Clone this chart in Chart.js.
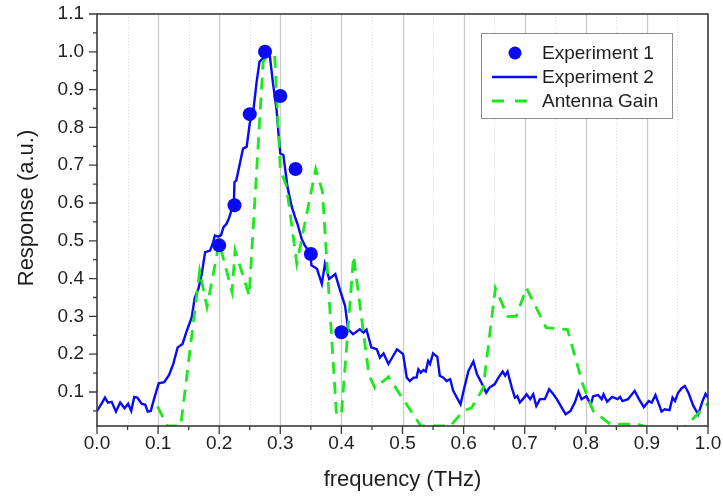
<!DOCTYPE html>
<html>
<head>
<meta charset="utf-8">
<title>Response vs frequency</title>
<script src="https://cdn.jsdelivr.net/npm/chart.js@4.4.1/dist/chart.umd.min.js"></script>
<style>
  html, body { margin: 0; padding: 0; background: #ffffff; }
  #wrap { width: 723px; height: 497px; position: relative; }
</style>
</head>
<body>
<div id="wrap"><canvas id="chart" width="723" height="497"></canvas></div>
<script>
// ---- data -------------------------------------------------------------
const seriesLabels = ['Experiment 1', 'Experiment 2', 'Antenna Gain'];

// Experiment 1: discrete measurements
const exp1Freq = [0.200, 0.225, 0.250, 0.275, 0.300, 0.325, 0.350, 0.400];
const exp1Resp = [0.488, 0.594, 0.835, 1.000, 0.883, 0.690, 0.465, 0.258];

// Experiment 2: continuous spectrum
const exp2Freq = [
  0.000, 0.007, 0.013, 0.018, 0.024, 0.031, 0.038, 0.045, 0.051, 0.056,
  0.061, 0.066, 0.073, 0.079, 0.083, 0.088, 0.094, 0.101, 0.110, 0.118,
  0.125, 0.132, 0.140, 0.147, 0.155, 0.160, 0.166, 0.171, 0.177, 0.185,
  0.190, 0.193, 0.199, 0.203, 0.207, 0.212, 0.216, 0.221, 0.224, 0.225,
  0.228, 0.239, 0.245, 0.250, 0.256, 0.261, 0.266, 0.272, 0.277, 0.283,
  0.288, 0.294, 0.297, 0.300, 0.305, 0.312, 0.319, 0.324, 0.328, 0.335,
  0.340, 0.349, 0.351, 0.360, 0.368, 0.373, 0.380, 0.390, 0.398, 0.406,
  0.411, 0.419, 0.430, 0.436, 0.441, 0.449, 0.458, 0.463, 0.469, 0.477,
  0.491, 0.501, 0.507, 0.512, 0.518, 0.523, 0.526, 0.530, 0.534, 0.538,
  0.542, 0.545, 0.550, 0.557, 0.561, 0.567, 0.572, 0.578, 0.583, 0.589,
  0.595, 0.600, 0.608, 0.616, 0.622, 0.629, 0.637, 0.642, 0.651, 0.657,
  0.664, 0.668, 0.672, 0.679, 0.684, 0.688, 0.692, 0.699, 0.703, 0.709,
  0.714, 0.719, 0.725, 0.733, 0.740, 0.747, 0.753, 0.758, 0.767, 0.775,
  0.782, 0.788, 0.793, 0.801, 0.808, 0.812, 0.820, 0.826, 0.829, 0.835,
  0.843, 0.852, 0.856, 0.860, 0.869, 0.880, 0.887, 0.895, 0.903, 0.908,
  0.914, 0.920, 0.924, 0.929, 0.937, 0.942, 0.946, 0.951, 0.957, 0.962,
  0.968, 0.976, 0.984, 0.991, 0.996, 1.000
];
const exp2Resp = [
  0.050, 0.068, 0.085, 0.072, 0.074, 0.048, 0.072, 0.057, 0.069, 0.050,
  0.087, 0.085, 0.069, 0.066, 0.048, 0.050, 0.085, 0.123, 0.126, 0.145,
  0.175, 0.218, 0.227, 0.262, 0.297, 0.350, 0.373, 0.408, 0.470, 0.474,
  0.496, 0.514, 0.511, 0.515, 0.536, 0.545, 0.560, 0.585, 0.600, 0.655,
  0.660, 0.744, 0.749, 0.811, 0.846, 0.917, 0.974, 0.983, 0.997, 0.988,
  0.917, 0.846, 0.784, 0.731, 0.727, 0.640, 0.589, 0.563, 0.545, 0.505,
  0.488, 0.466, 0.435, 0.426, 0.386, 0.439, 0.399, 0.412, 0.368, 0.328,
  0.266, 0.253, 0.266, 0.257, 0.265, 0.218, 0.213, 0.191, 0.202, 0.174,
  0.213, 0.200, 0.138, 0.129, 0.138, 0.138, 0.160, 0.151, 0.158, 0.154,
  0.182, 0.174, 0.202, 0.193, 0.143, 0.138, 0.129, 0.134, 0.103, 0.085,
  0.067, 0.103, 0.156, 0.181, 0.147, 0.125, 0.098, 0.111, 0.121, 0.138,
  0.154, 0.143, 0.154, 0.111, 0.085, 0.089, 0.072, 0.085, 0.094, 0.081,
  0.094, 0.063, 0.081, 0.081, 0.107, 0.094, 0.080, 0.066, 0.041, 0.050,
  0.072, 0.101, 0.081, 0.089, 0.066, 0.089, 0.092, 0.081, 0.094, 0.074,
  0.087, 0.081, 0.087, 0.076, 0.081, 0.103, 0.081, 0.060, 0.076, 0.072,
  0.092, 0.066, 0.048, 0.054, 0.052, 0.085, 0.076, 0.098, 0.110, 0.116,
  0.098, 0.063, 0.041, 0.076, 0.095, 0.085
];

// Antenna gain curve
const gainFreq = [
  0.099, 0.115, 0.137, 0.168, 0.180, 0.200, 0.221, 0.226, 0.249, 0.272,
  0.278, 0.291, 0.300, 0.310, 0.327, 0.358, 0.369, 0.392, 0.400, 0.420,
  0.445, 0.455, 0.477, 0.530, 0.578, 0.600, 0.613, 0.632, 0.652, 0.672,
  0.686, 0.703, 0.735, 0.770, 0.795, 0.812, 0.840, 0.885, 0.925, 0.955,
  1.000
];
const gainResp = [
  0.062, 0.010, 0.010, 0.420, 0.325, 0.495, 0.365, 0.475, 0.355, 0.975,
  0.985, 0.985, 0.690, 0.645, 0.440, 0.690, 0.630, 0.040, 0.040, 0.460,
  0.145, 0.110, 0.140, 0.010, 0.010, 0.050, 0.058, 0.110, 0.375, 0.300,
  0.300, 0.375, 0.270, 0.265, 0.120, 0.050, 0.015, 0.015, -0.005, -0.005,
  0.070
];

const xTickLabels = [0.0, 0.1, 0.2, 0.3, 0.4, 0.5, 0.6, 0.7, 0.8, 0.9, 1.0];
const yTickLabels = [0.1, 0.2, 0.3, 0.4, 0.5, 0.6, 0.7, 0.8, 0.9, 1.0, 1.1];

// ---- styling ----------------------------------------------------------
const FONT = "'Liberation Sans', Arial, Helvetica, sans-serif";
const TEXT = '#1e1e1e';
const BLUE = '#0a0af5';
const GREEN = '#1de81d';
const GREEN_DASH = [12, 8];

const toPoints = (xs, ys) => xs.map((x, i) => ({ x, y: ys[i] }));

// grid, frame, minor ticks, axis title and legend drawn on top of Chart.js scales
const decor = {
  id: 'decor',
  beforeDatasetsDraw(chart) {
    const { ctx, chartArea: a, scales: { x } } = chart;
    ctx.save();
    for (let i = 1; i < 20; i++) {
      const major = i % 2 === 0;
      const px = Math.round(x.getPixelForValue(i * 0.05)) + 0.5;
      ctx.beginPath();
      ctx.lineWidth = major ? 1.3 : 1;
      ctx.strokeStyle = major ? '#cbcbcb' : '#dedede';
      ctx.setLineDash(major ? [] : [1, 2]);
      ctx.moveTo(px, a.top);
      ctx.lineTo(px, a.bottom);
      ctx.stroke();
    }
    ctx.restore();
  },
  afterDatasetsDraw(chart) {
    const { ctx, chartArea: a, scales: { x, y } } = chart;
    ctx.save();
    ctx.strokeStyle = '#3a3a3a';
    ctx.lineWidth = 1.6;
    ctx.strokeRect(a.left, a.top, a.right - a.left, a.bottom - a.top);
    ctx.lineWidth = 1.3;
    ctx.beginPath();
    for (let i = 0; i <= 20; i++) {
      const px = x.getPixelForValue(i * 0.05);
      const len = i % 2 === 0 ? 8 : 4;
      ctx.moveTo(px, a.bottom);
      ctx.lineTo(px, a.bottom + len);
    }
    for (let i = 1; i <= 22; i++) {
      const py = y.getPixelForValue(i * 0.05);
      const len = i % 2 === 0 ? 8 : 4;
      ctx.moveTo(a.left, py);
      ctx.lineTo(a.left - len, py);
    }
    ctx.stroke();
    ctx.restore();
  },
  afterDraw(chart) {
    const { ctx } = chart;
    ctx.save();
    // vertical axis title
    ctx.fillStyle = TEXT;
    ctx.font = '22px ' + FONT;
    ctx.textAlign = 'center';
    ctx.textBaseline = 'middle';
    ctx.translate(27, 208);
    ctx.rotate(-Math.PI / 2);
    ctx.fillText('Response (a.u.)', 0, 0);
    ctx.restore();

    // legend box
    ctx.save();
    const bx = 481.5, by = 33.5, bw = 191, bh = 85;
    ctx.fillStyle = '#ffffff';
    ctx.fillRect(bx, by, bw, bh);
    ctx.strokeStyle = '#8c8c8c';
    ctx.lineWidth = 1;
    ctx.strokeRect(bx, by, bw, bh);
    const rows = [53, 77, 101];
    const sx0 = 492, sx1 = 537, tx = 542;
    ctx.font = '19px ' + FONT;
    ctx.textAlign = 'left';
    ctx.textBaseline = 'middle';
    seriesLabels.forEach((label, i) => {
      const ry = rows[i];
      if (i === 0) {
        ctx.fillStyle = BLUE;
        ctx.beginPath();
        ctx.arc((sx0 + sx1) / 2 + 0.5, ry, 6.5, 0, Math.PI * 2);
        ctx.fill();
      } else {
        ctx.beginPath();
        ctx.strokeStyle = i === 1 ? BLUE : GREEN;
        ctx.lineWidth = i === 1 ? 2.4 : 2.8;
        ctx.setLineDash(i === 1 ? [] : [12, 11]);
        ctx.moveTo(sx0, ry);
        ctx.lineTo(sx1, ry);
        ctx.stroke();
        ctx.setLineDash([]);
      }
      ctx.fillStyle = TEXT;
      ctx.fillText(label, tx, ry + 1);
    });
    ctx.restore();
  }
};

new Chart(document.getElementById('chart'), {
  type: 'scatter',
  data: {
    datasets: [
      {
        label: seriesLabels[0],
        data: toPoints(exp1Freq, exp1Resp),
        showLine: false,
        pointRadius: 7,
        pointHoverRadius: 7,
        pointBackgroundColor: BLUE,
        pointBorderWidth: 0,
        borderColor: BLUE
      },
      {
        label: seriesLabels[2],
        data: toPoints(gainFreq, gainResp),
        showLine: true,
        borderColor: GREEN,
        borderWidth: 2.8,
        borderDash: GREEN_DASH,
        pointRadius: 0,
        tension: 0,
        fill: false
      },
      {
        label: seriesLabels[1],
        data: toPoints(exp2Freq, exp2Resp),
        showLine: true,
        borderColor: BLUE,
        borderWidth: 2.4,
        pointRadius: 0,
        tension: 0,
        fill: false
      }
    ]
  },
  options: {
    responsive: false,
    animation: false,
    devicePixelRatio: 1,
    events: [],
    layout: { padding: { left: 0, right: 15, top: 14, bottom: 0 } },
    plugins: { legend: { display: false }, tooltip: { enabled: false } },
    scales: {
      x: {
        type: 'linear',
        min: 0,
        max: 1,
        afterBuildTicks: (s) => { s.ticks = xTickLabels.map(v => ({ value: v })); },
        afterFit: (s) => {
          s.height = 71;
          s.paddingLeft = 0;
          s.paddingRight = 0;
        },
        grid: { display: false, drawTicks: false },
        border: { display: false },
        ticks: {
          color: TEXT,
          font: { family: FONT, size: 19 },
          padding: 6,
          maxRotation: 0,
          autoSkip: false,
          callback: (v) => Number(v).toFixed(1)
        },
        title: {
          display: true,
          text: 'frequency (THz)',
          color: TEXT,
          font: { family: FONT, size: 22 },
          padding: { top: 0, bottom: 4 }
        }
      },
      y: {
        type: 'linear',
        min: 0.01,
        max: 1.1,
        afterBuildTicks: (s) => { s.ticks = yTickLabels.map(v => ({ value: v })); },
        afterFit: (s) => {
          s.width = 97;
          s.paddingTop = 0;
          s.paddingBottom = 0;
        },
        grid: { display: false, drawTicks: false },
        border: { display: false },
        ticks: {
          color: TEXT,
          font: { family: FONT, size: 19 },
          padding: 13,
          autoSkip: false,
          callback: (v) => Number(v).toFixed(1)
        }
      }
    }
  },
  plugins: [decor]
});
</script>
</body>
</html>
